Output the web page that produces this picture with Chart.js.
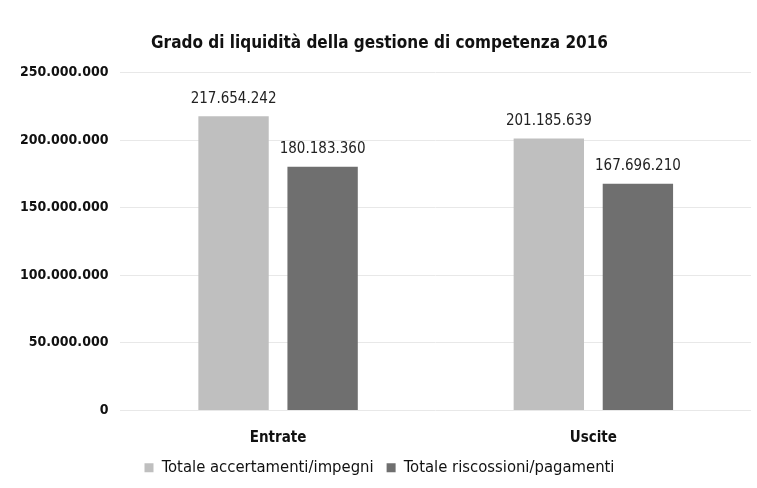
<!DOCTYPE html>
<html>
<head>
<meta charset="utf-8">
<script src="https://cdn.jsdelivr.net/npm/chart.js@4/dist/chart.umd.min.js"></script>
<style>
  html, body { margin: 0; padding: 0; background: #fff; }
  #wrap { width: 757px; height: 488px; }
</style>
</head>
<body>
<div id="wrap"><canvas id="c" width="757" height="488"></canvas></div>
<script>
var FONT = "'Liberation Sans Narrow', 'DejaVu Sans Condensed', sans-serif";

var categories = ['Entrate', 'Uscite'];
var seriesNames = ['Totale accertamenti/impegni', 'Totale riscossioni/pagamenti'];
var accertamenti = [217654242, 201185639];
var riscossioni = [180183360, 167696210];
var yTicks = [0, 50000000, 100000000, 150000000, 200000000, 250000000];

function fmt(v) {
	return String(Math.round(v)).replace(/\B(?=(\d{3})+(?!\d))/g, '.');
}

// scrive il valore sopra ogni barra
var valueLabels = {
	id: 'valueLabels',
	afterDatasetsDraw: function(chart) {
		var ctx = chart.ctx;
		ctx.save();
		ctx.font = '15px ' + FONT;
		ctx.fillStyle = '#222';
		ctx.textAlign = 'center';
		ctx.textBaseline = 'bottom';
		chart.data.datasets.forEach(function(ds, i) {
			chart.getDatasetMeta(i).data.forEach(function(bar, j) {
				ctx.fillText(fmt(ds.data[j]), bar.x, bar.y - 10);
			});
		});
		ctx.restore();
	}
};

new Chart(document.getElementById('c'), {
	type: 'bar',
	data: {
		labels: categories,
		datasets: [
			{ label: seriesNames[0], data: accertamenti, backgroundColor: '#bfbfbf' },
			{ label: seriesNames[1], data: riscossioni, backgroundColor: '#6f6f6f' }
		]
	},
	options: {
		responsive: false,
		animation: false,
		categoryPercentage: 0.565,
		barPercentage: 0.79,
		layout: { padding: { left: 8, right: 6, top: 8, bottom: 2 } },
		plugins: {
			title: {
				display: true,
				text: 'Grado di liquidità della gestione di competenza 2016',
				color: '#111',
				font: { family: FONT, size: 17, weight: 'bold' },
				padding: { top: 25, bottom: 19 }
			},
			legend: {
				position: 'bottom',
				labels: {
					color: '#111',
					font: { family: FONT, size: 16.5 },
					boxWidth: 9,
					boxHeight: 9,
					padding: 13
				}
			},
			tooltip: { enabled: false }
		},
		scales: {
			x: {
				// tickLength sposta le etichette senza spazio extra sotto
				grid: { display: false, drawTicks: true, tickLength: 20 },
				border: { display: false },
				ticks: {
					color: '#111',
					font: { family: FONT, size: 15, weight: 'bold', lineHeight: 1.07 },
					padding: 0
				}
			},
			y: {
				min: 0,
				max: 250000000,
				afterBuildTicks: function(axis) {
					axis.ticks = yTicks.map(function(v) { return { value: v }; });
				},
				grid: { color: '#e8e8e8', drawTicks: false },
				border: { display: false },
				ticks: {
					color: '#111',
					padding: 12,
					font: { family: FONT, size: 14, weight: 'bold' },
					callback: function(v) { return fmt(v); }
				}
			}
		}
	},
	plugins: [valueLabels]
});
</script>
</body>
</html>
